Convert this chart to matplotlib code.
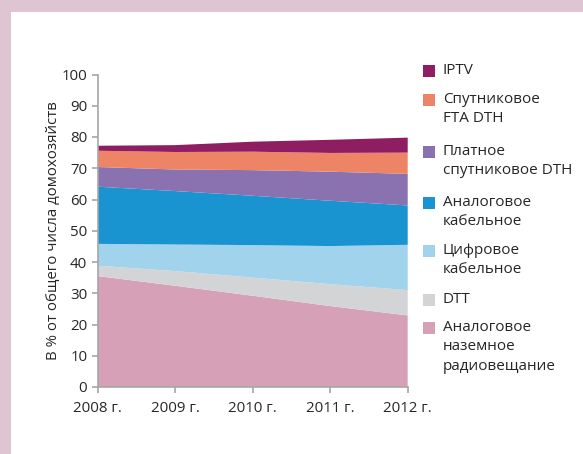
import matplotlib
matplotlib.use("Agg")
import matplotlib.pyplot as plt
from matplotlib.patches import Rectangle

plt.rcParams['font.family'] = ['Open Sans', 'DejaVu Sans']

years = ["2008 г.", "2009 г.", "2010 г.", "2011 г.", "2012 г."]

# stacked from bottom to top, share of households, %
analog_terr = [35.5, 32.4, 29.2, 25.9, 22.9]
dtt = [3.3, 4.7, 5.8, 7.0, 8.1]
digital_cable = [7.0, 8.5, 10.4, 12.2, 14.5]
analog_cable = [18.3, 17.1, 15.8, 14.5, 12.6]
paid_dth = [6.3, 6.9, 8.2, 9.3, 10.1]
fta_dth = [5.2, 5.6, 5.9, 6.0, 6.8]
iptv = [1.6, 2.2, 3.2, 4.2, 4.8]

series = [analog_terr, dtt, digital_cable, analog_cable, paid_dth, fta_dth, iptv]
labels = ["Аналоговое\nназемное\nрадиовещание", "DTT", "Цифровое\nкабельное",
          "Аналоговое\nкабельное", "Платное\nспутниковое DTH",
          "Спутниковое\nFTA DTH", "IPTV"]
colors = ["#d6a1b6", "#d3d4d6", "#a1d4ec", "#1a94d1", "#8a71b0", "#ee8466", "#8e1e61"]

fig = plt.figure(figsize=(5.83, 4.54), dpi=100)
fig.patch.set_facecolor("white")

# pink frame on the left and top
fig.patches.append(Rectangle((0, 0), 11 / 583, 1, transform=fig.transFigure,
                             facecolor="#dfc4d2", edgecolor="none", zorder=0))
fig.patches.append(Rectangle((0, 1 - 12 / 454), 1, 12 / 454, transform=fig.transFigure,
                             facecolor="#dfc4d2", edgecolor="none", zorder=0))

ax = fig.add_axes([97.7 / 583, 1 - 387 / 454, 310 / 583, 312.5 / 454])
x = list(range(len(years)))
ax.stackplot(x, *series, colors=colors, linewidth=0)

ax.set_xlim(0, 4)
ax.set_ylim(0, 100)
ax.set_yticks(range(0, 101, 10))
ax.set_xticks(x)
ax.set_xticklabels(years)
for s in ["top", "right"]:
    ax.spines[s].set_visible(False)
for s in ["left", "bottom"]:
    ax.spines[s].set_color("#a6a6a6")
    ax.spines[s].set_linewidth(1.2)
    ax.spines[s].set_zorder(5)
ax.tick_params(colors="#a6a6a6", labelcolor="#262626", labelsize=10.8, length=4, width=1.2)
ax.tick_params(axis="x", pad=6)
ax.set_ylabel("В % от общего числа домохозяйств", fontsize=10.8, color="#262626")
ax.yaxis.set_label_coords(-37 / 310, 0.5)

# legend drawn by hand, top entry first
legend_y = [71, 100, 152, 203, 251, 300, 328]
for lab, col, ly in zip(labels[::-1], colors[::-1], legend_y):
    fig.patches.append(Rectangle((423 / 583, 1 - (ly + 6) / 454), 12 / 583, 12 / 454,
                                 transform=fig.transFigure, facecolor=col, edgecolor="none"))
    fig.text(443 / 583, 1 - (ly - 8) / 454, lab, fontsize=11, color="#262626",
             va="top", ha="left", linespacing=1.4)

fig.savefig("out.png", dpi=100)
